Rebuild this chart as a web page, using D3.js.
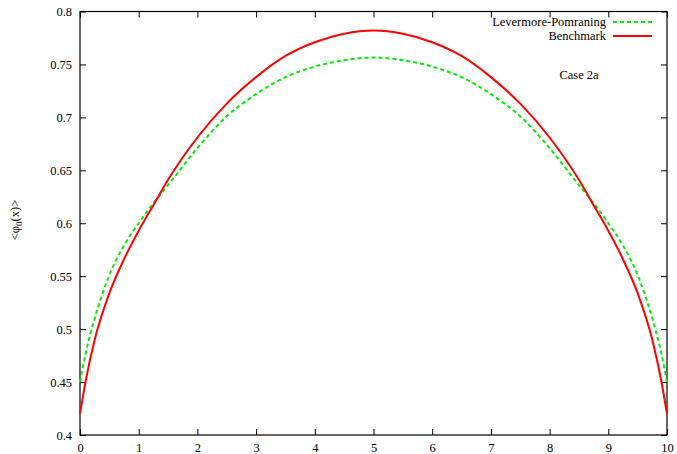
<!DOCTYPE html>
<html>
<head>
<meta charset="utf-8">
<script src="https://cdn.jsdelivr.net/npm/d3@7"></script>
<style>
  body { margin: 0; background: #fff; }
  svg { display: block; }
  .frame { fill: none; stroke: #000; stroke-width: 1.2; }
  .tick line { stroke: #000; stroke-width: 1; }
</style>
</head>
<body>
<script>
// x positions where the curves were read
var xValues = [0, 0.1, 0.25, 0.5, 0.75, 1, 1.25, 1.5, 2, 2.5, 3, 3.5, 4, 4.5, 5,
               5.5, 6, 6.5, 7, 7.5, 8, 8.5, 8.75, 9, 9.25, 9.5, 9.75, 9.9, 10]

// Levermore-Pomraning (green dashed)
var lpValues = [0.450, 0.478, 0.510, 0.551, 0.579, 0.600, 0.619, 0.636, 0.671, 0.701, 0.722, 0.738, 0.748, 0.754, 0.7565,
                0.754, 0.748, 0.738, 0.722, 0.701, 0.671, 0.636, 0.619, 0.600, 0.579, 0.551, 0.510, 0.478, 0.450]

// Benchmark (red solid)
var benchValues = [0.420, 0.452, 0.490, 0.534, 0.566, 0.593, 0.617, 0.641, 0.681, 0.713, 0.738, 0.758, 0.771, 0.779, 0.782,
                   0.779, 0.771, 0.758, 0.738, 0.713, 0.681, 0.641, 0.617, 0.593, 0.566, 0.534, 0.490, 0.452, 0.420]

var xTicks = [0, 1, 2, 3, 4, 5, 6, 7, 8, 9, 10]
var yTicks = [0.4, 0.45, 0.5, 0.55, 0.6, 0.65, 0.7, 0.75, 0.8]

var seriesNames = ["Levermore-Pomraning", "Benchmark"]
var caseLabel = "Case 2a"

var FONT = "Liberation Serif, DejaVu Serif, serif"
var FSIZE = 12.5

var W = 677, H = 454
var margin = {top: 11.5, right: 10, bottom: 19, left: 80}
var width = W - margin.left - margin.right
var height = H - margin.top - margin.bottom

var xScale = d3.scaleLinear().domain([0, 10]).range([0, width])
var yScale = d3.scaleLinear().domain([0.4, 0.8]).range([height, 0])

var svg = d3.select("body").append("svg")
    .attr("width", W)
    .attr("height", H)
    .style("font-family", FONT)
    .style("font-size", FSIZE + "px")

var g = svg.append("g")
    .attr("transform", "translate(" + margin.left + "," + margin.top + ")")

var tickLen = 6

function styleAxis(a) {
  a.attr("font-family", null).attr("font-size", null)
  a.select(".domain").remove()
  a.selectAll("text").attr("fill", "#000").style("font-family", FONT)
}

// bottom axis with labels, ticks pointing inward
g.append("g")
    .attr("class", "x axis")
    .attr("transform", "translate(0," + height + ")")
    .call(d3.axisBottom(xScale).tickValues(xTicks).tickSize(-tickLen).tickPadding(8).tickFormat(d3.format("d")))
    .call(styleAxis)

// top mirror ticks
g.append("g")
    .call(d3.axisTop(xScale).tickValues(xTicks).tickSize(-tickLen).tickFormat(""))
    .call(styleAxis)

// left axis
g.append("g")
    .attr("class", "y axis")
    .call(d3.axisLeft(yScale).tickValues(yTicks).tickSize(-tickLen).tickPadding(8).tickFormat(d3.format("")))
    .call(styleAxis)

// right mirror ticks
g.append("g")
    .attr("transform", "translate(" + width + ",0)")
    .call(d3.axisRight(yScale).tickValues(yTicks).tickSize(-tickLen).tickFormat(""))
    .call(styleAxis)

g.append("rect")
    .attr("class", "frame")
    .attr("width", width)
    .attr("height", height)

var lpData = xValues.map(function(x, i) { return {x: x, y: lpValues[i]} })
var benchData = xValues.map(function(x, i) { return {x: x, y: benchValues[i]} })

var line = d3.line()
    .x(function(d) { return xScale(d.x) })
    .y(function(d) { return yScale(d.y) })
    .curve(d3.curveMonotoneX)

g.append("path")
    .datum(lpData)
    .attr("fill", "none")
    .attr("stroke", "#00ee00")
    .attr("stroke-width", 2)
    .attr("stroke-dasharray", "4,3")
    .attr("d", line)

g.append("path")
    .datum(benchData)
    .attr("fill", "none")
    .attr("stroke", "#ff0000")
    .attr("stroke-width", 2)
    .attr("d", line)

// legend, top right
var legend = svg.append("g")
var legendStyles = [
  {color: "#00ee00", dash: "4,3"},
  {color: "#ff0000", dash: null}
]
seriesNames.forEach(function(name, i) {
  var y = 22 + i * 14
  legend.append("text")
      .attr("x", 606)
      .attr("y", y + 4)
      .attr("text-anchor", "end")
      .text(name)
  legend.append("line")
      .attr("x1", 613).attr("x2", 652)
      .attr("y1", y).attr("y2", y)
      .attr("stroke", legendStyles[i].color)
      .attr("stroke-width", 2)
      .attr("stroke-dasharray", legendStyles[i].dash)
})

svg.append("text")
    .attr("x", 579)
    .attr("y", 79)
    .attr("text-anchor", "middle")
    .text(caseLabel)

// y axis label
var ylab = svg.append("text")
    .attr("transform", "translate(19,220) rotate(-90)")
    .attr("text-anchor", "middle")
ylab.append("tspan").text("<\u03c6")
ylab.append("tspan").attr("dy", 3).style("font-size", "9px").text("0")
ylab.append("tspan").attr("dy", -3).text("(x)>")
</script>
</body>
</html>
